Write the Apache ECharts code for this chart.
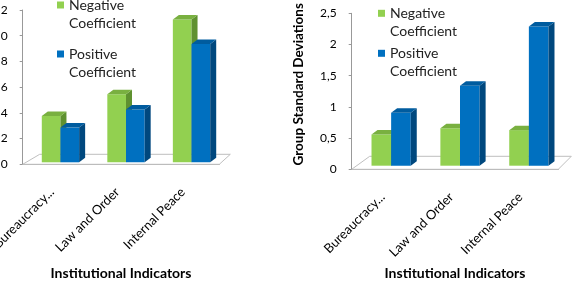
<!DOCTYPE html>
<html>
<head>
<meta charset="utf-8">
<script src="https://cdn.jsdelivr.net/npm/echarts@6/dist/echarts.min.js"></script>
<style>
  html, body { margin: 0; padding: 0; background: #fff; }
  #chart { width: 577px; height: 283px; }
</style>
</head>
<body>
<div id="chart"></div>
<script>
// data
const categories = ['Bureaucracy...', 'Law and Order', 'Internal Peace'];
const seriesNames = ['Negative Coefficient', 'Positive Coefficient'];
const leftNegative = [3.6, 5.3, 11.1];
const leftPositive = [2.7, 4.1, 9.2];
const rightNegative = [0.5, 0.6, 0.57];
const rightPositive = [0.85, 1.28, 2.23];
const leftTicks = [0, 2, 4, 6, 8, 10, 12];
const rightTicks = [0, 0.5, 1, 1.5, 2, 2.5];

const green = { front: '#92D050', side: '#5F9130', top: '#79B040' };
const blue = { front: '#0070C0', side: '#00487E', top: '#005C9F' };
const axisGray = '#999999';
const font = 'Lato, "Liberation Sans", sans-serif';

// 3D-looking column: front face, right side face, top face
function bar3d(slot, col, lift) {
  return function (params, api) {
    const cat = api.value(0);
    const val = api.value(1);
    const band = api.size([1, 0])[0];
    const w = band * 0.285;
    const base = api.coord([cat, 0]);
    const tip = api.coord([cat, val]);
    const x = base[0] - w + 5 + slot * w;
    const yb = base[1] - lift;
    const yt = tip[1] - lift;
    const dx = 6, dy = 4.5;
    return {
      type: 'group',
      children: [
        { type: 'rect', shape: { x: x, y: yt, width: w, height: yb - yt }, style: { fill: col.front } },
        { type: 'polygon', shape: { points: [[x + w, yt], [x + w + dx, yt - dy], [x + w + dx, yb - dy], [x + w, yb]] }, style: { fill: col.side } },
        { type: 'polygon', shape: { points: [[x, yt], [x + dx, yt - dy], [x + w + dx, yt - dy], [x + w, yt]] }, style: { fill: col.top } }
      ]
    };
  };
}

// floor of the 3D plot
function floor(dl, dr, dy) {
  return function (params, api) {
    const band = api.size([1, 0])[0];
    const a = api.coord([0, 0]);
    const b = api.coord([categories.length - 1, 0]);
    const x0 = a[0] - band / 2, x1 = b[0] + band / 2, y0 = a[1];
    return {
      type: 'polygon',
      shape: { points: [[x0, y0], [x1, y0], [x1 + dr, y0 - dy], [x0 + dl, y0 - dy]] },
      style: { fill: '#fff', stroke: '#BFBFBF', lineWidth: 1 }
    };
  };
}

function pairs(vals) {
  return vals.map((v, i) => [i, v]);
}

function xAxisFor(gi, gap) {
  return {
    type: 'category',
    gridIndex: gi,
    data: categories,
    axisLine: { lineStyle: { color: axisGray } },
    axisTick: { length: 4, lineStyle: { color: axisGray } },
    axisLabel: { rotate: 45, margin: 22, padding: [0, 5, 0, 0], fontSize: 13, color: '#000', fontFamily: font, interval: 0 },
    name: 'Institutional Indicators',
    nameLocation: 'middle',
    nameGap: gap,
    nameTextStyle: { fontSize: 14, fontWeight: 'bold', color: '#000', fontFamily: font }
  };
}

function yAxisFor(gi, ticks) {
  return {
    type: 'value',
    gridIndex: gi,
    min: ticks[0],
    max: ticks[ticks.length - 1],
    interval: ticks[1] - ticks[0],
    splitLine: { show: false },
    axisLine: { show: true, lineStyle: { color: axisGray } },
    axisTick: { show: true, length: 3, lineStyle: { color: axisGray } },
    axisLabel: { fontSize: 12, color: '#000', fontFamily: font, margin: 15, formatter: v => String(v).replace('.', ',') }
  };
}

// empty first line so the swatch sits next to the first word
function legendFor(left, top, gap) {
  return {
    orient: 'vertical',
    left: left,
    top: top,
    padding: 0,
    itemGap: gap,
    itemWidth: 7,
    itemHeight: 7,
    icon: 'rect',
    formatter: n => '\n' + n.replace(' ', '\n'),
    textStyle: { fontSize: 14, lineHeight: 18, color: '#222', fontFamily: font },
    data: seriesNames
  };
}

const chart = echarts.init(document.getElementById('chart'));
const leftY = yAxisFor(0, leftTicks);
const rightY = yAxisFor(1, rightTicks);
rightY.name = 'Group Standard Deviations';
rightY.nameLocation = 'middle';
rightY.nameGap = 46;
rightY.nameTextStyle = { fontSize: 13.5, fontWeight: 'bold', color: '#000', fontFamily: font, padding: [0, 0, 0, 14] };

chart.setOption({
  animation: false,
  grid: [
    { left: 22.7, top: 10, width: 196.6, height: 154.3, outerBoundsMode: 'none' },
    { left: 351.7, top: 13.3, width: 206.6, height: 156, outerBoundsMode: 'none' }
  ],
  legend: [legendFor(57, -22, -5), legendFor(378, -13.7, -14)],
  xAxis: [xAxisFor(0, 102), xAxisFor(1, 97)],
  yAxis: [leftY, rightY],
  series: [
    { type: 'custom', xAxisIndex: 0, yAxisIndex: 0, data: [[0, 0]], renderItem: floor(17, 11, 10), silent: true, z: 1 },
    { type: 'custom', name: seriesNames[0], xAxisIndex: 0, yAxisIndex: 0, data: pairs(leftNegative), renderItem: bar3d(0, green, 2), itemStyle: { color: green.front }, z: 2 },
    { type: 'custom', name: seriesNames[1], xAxisIndex: 0, yAxisIndex: 0, data: pairs(leftPositive), renderItem: bar3d(1, blue, 2), itemStyle: { color: blue.front }, z: 3 },
    { type: 'custom', xAxisIndex: 1, yAxisIndex: 1, data: [[0, 0]], renderItem: floor(18, 13, 13), silent: true, z: 1 },
    { type: 'custom', name: seriesNames[0], xAxisIndex: 1, yAxisIndex: 1, data: pairs(rightNegative), renderItem: bar3d(0, green, 3.6), itemStyle: { color: green.front }, z: 2 },
    { type: 'custom', name: seriesNames[1], xAxisIndex: 1, yAxisIndex: 1, data: pairs(rightPositive), renderItem: bar3d(1, blue, 3.6), itemStyle: { color: blue.front }, z: 3 }
  ]
});
</script>
</body>
</html>
